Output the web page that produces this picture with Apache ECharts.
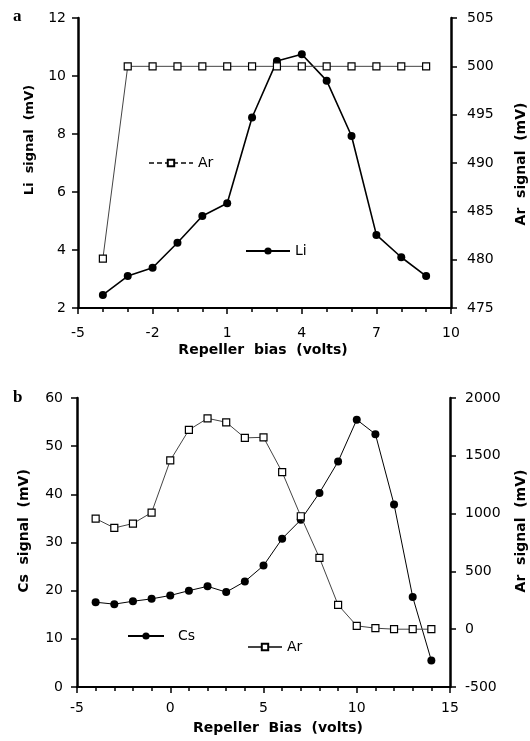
<!DOCTYPE html>
<html>
<head>
<meta charset="utf-8">
<script src="https://cdn.jsdelivr.net/npm/echarts@6/dist/echarts.min.js"></script>
<style>
html,body{margin:0;padding:0;background:#fff;}
#chart{width:530px;height:741px;}
</style>
</head>
<body>
<div id="chart"></div>
<script>
// ---- Panel a data ----
const topBias = [-4, -3, -2, -1, 0, 1, 2, 3, 4, 5, 6, 7, 8, 9];
const liSignal = [2.45, 3.1, 3.39, 4.25, 5.17, 5.61, 8.57, 10.52, 10.75, 9.84, 7.93, 4.52, 3.75, 3.1];
const arSignalTop = [480.1, 500, 500, 500, 500, 500, 500, 500, 500, 500, 500, 500, 500, 500];

// ---- Panel b data ----
const bottomBias = [-4, -3, -2, -1, 0, 1, 2, 3, 4, 5, 6, 7, 8, 9, 10, 11, 12, 13, 14];
const csSignal = [17.6, 17.2, 17.8, 18.3, 19.0, 20.0, 20.9, 19.7, 21.9, 25.2, 30.8, 34.7, 40.3, 46.8, 55.5, 52.5, 37.9, 18.7, 5.5];
const arSignalBottom = [957, 876, 914, 1009, 1460, 1724, 1824, 1790, 1655, 1660, 1359, 977, 617, 210, 29, 9, 0, 0, 0];

// ---- Axis ranges ----
const topXRange = [-5, 10], topXStep = 3;
const liRange = [2, 12], liStep = 2;
const arTopRange = [475, 505], arTopStep = 5;
const bottomXRange = [-5, 15], bottomXStep = 5;
const csRange = [0, 60], csStep = 10;
const arBottomRange = [-500, 2000], arBottomStep = 500;

const pairs = (xs, ys) => xs.map((x, i) => [x, ys[i]]);

const FONT = 'DejaVu Sans';
const plain = (v) => String(v);
const label = (margin) => ({color: '#000', fontFamily: FONT, fontSize: 14, margin, formatter: plain});
const axisCommon = (extra) => Object.assign({
  type: 'value',
  splitLine: {show: false},
  axisLine: {show: true, onZero: false, lineStyle: {color: '#000', width: 2.5}},
  axisTick: {show: true, inside: false, length: 6, lineStyle: {color: '#000', width: 1.5}},
  axisLabel: label(12)
}, extra);

const chart = echarts.init(document.getElementById('chart'), null, {renderer: 'canvas'});

const dotSeries = (name, data, xi, yi, lw) => ({
  name, type: 'line', xAxisIndex: xi, yAxisIndex: yi, data,
  symbol: 'circle', symbolSize: 8,
  lineStyle: {color: '#000', width: lw},
  itemStyle: {color: '#000', borderColor: '#000', borderWidth: 0},
  emphasis: {disabled: true}, animation: false, z: 3
});
const sqSeries = (name, data, xi, yi) => ({
  name, type: 'line', xAxisIndex: xi, yAxisIndex: yi, data,
  symbol: 'rect', symbolSize: 7,
  lineStyle: {color: '#444', width: 1},
  itemStyle: {color: '#fff', borderColor: '#000', borderWidth: 1.2},
  emphasis: {disabled: true}, animation: false, z: 4
});

const legendCommon = (extra) => Object.assign({
  orient: 'horizontal', itemWidth: 44, itemHeight: 8, padding: 0,
  selectedMode: false,
  textStyle: {color: '#000', fontFamily: FONT, fontSize: 14}
}, extra);

const xLine = {show: true, onZero: false, lineStyle: {color: '#000', width: 2}};
const option = {
  animation: false,
  backgroundColor: '#fff',
  grid: [
    {left: 78, right: 79, top: 18, height: 290},
    {left: 77, right: 80, top: 398, height: 289}
  ],
  xAxis: [
    axisCommon({gridIndex: 0, min: topXRange[0], max: topXRange[1], interval: topXStep,
      axisLine: xLine, axisLabel: label(18),
      minorTick: {show: true, splitNumber: 3, length: 4, lineStyle: {color: '#000', width: 1.5}}}),
    axisCommon({gridIndex: 1, min: bottomXRange[0], max: bottomXRange[1], interval: bottomXStep,
      axisLine: xLine, axisLabel: label(14),
      minorTick: {show: true, splitNumber: 5, length: 4, lineStyle: {color: '#000', width: 1.5}}})
  ],
  yAxis: [
    axisCommon({gridIndex: 0, position: 'left', min: liRange[0], max: liRange[1], interval: liStep, axisLabel: label(12)}),
    axisCommon({gridIndex: 0, position: 'right', min: arTopRange[0], max: arTopRange[1], interval: arTopStep, axisLabel: label(16)}),
    axisCommon({gridIndex: 1, position: 'left', min: csRange[0], max: csRange[1], interval: csStep, axisLabel: label(14)}),
    axisCommon({gridIndex: 1, position: 'right', min: arBottomRange[0], max: arBottomRange[1], interval: arBottomStep, axisLabel: label(15)})
  ],
  legend: [
    legendCommon({data: ['Ar'], left: 148, top: 156, lineStyle: {type: [5, 3]}}),
    legendCommon({data: ['Li'], left: 245, top: 244, itemHeight: 9}),
    legendCommon({data: ['Cs'], left: 127, top: 629, itemWidth: 36, itemHeight: 9,
      textStyle: {color: '#000', fontFamily: FONT, fontSize: 14, padding: [0, 0, 0, 9]}}),
    legendCommon({data: [{name: 'Ar '}], left: 247, top: 640, itemWidth: 34})
  ],
  series: [
    dotSeries('Li', pairs(topBias, liSignal), 0, 0, 1.6),
    sqSeries('Ar', pairs(topBias, arSignalTop), 0, 1),
    dotSeries('Cs', pairs(bottomBias, csSignal), 1, 2, 1),
    sqSeries('Ar ', pairs(bottomBias, arSignalBottom), 1, 3)
  ],
  graphic: [
    {type: 'text', left: 13, top: 8, style: {text: 'a', font: 'bold 17px "Liberation Serif"', fill: '#000'}},
    {type: 'text', left: 13, top: 389, style: {text: 'b', font: 'bold 17px "Liberation Serif"', fill: '#000'}},
    {type: 'text', x: 30, y: 140, rotation: Math.PI / 2,
      style: {text: 'Li  signal  (mV)', font: 'bold 13px "DejaVu Sans"', fill: '#000', align: 'center', verticalAlign: 'middle'}},
    {type: 'text', x: 521, y: 164, rotation: Math.PI / 2,
      style: {text: 'Ar  signal  (mV)', font: 'bold 14px "DejaVu Sans"', fill: '#000', align: 'center', verticalAlign: 'middle'}},
    {type: 'text', x: 263, y: 350,
      style: {text: 'Repeller  bias  (volts)', font: 'bold 14px "DejaVu Sans"', fill: '#000', align: 'center', verticalAlign: 'middle'}},
    {type: 'text', x: 24, y: 531, rotation: Math.PI / 2,
      style: {text: 'Cs  signal  (mV)', font: 'bold 14px "DejaVu Sans"', fill: '#000', align: 'center', verticalAlign: 'middle'}},
    {type: 'text', x: 521, y: 531, rotation: Math.PI / 2,
      style: {text: 'Ar  signal  (mV)', font: 'bold 14px "DejaVu Sans"', fill: '#000', align: 'center', verticalAlign: 'middle'}},
    {type: 'text', x: 278, y: 728,
      style: {text: 'Repeller  Bias  (volts)', font: 'bold 14px "DejaVu Sans"', fill: '#000', align: 'center', verticalAlign: 'middle'}}
  ]
};
chart.setOption(option);
</script>
</body>
</html>
